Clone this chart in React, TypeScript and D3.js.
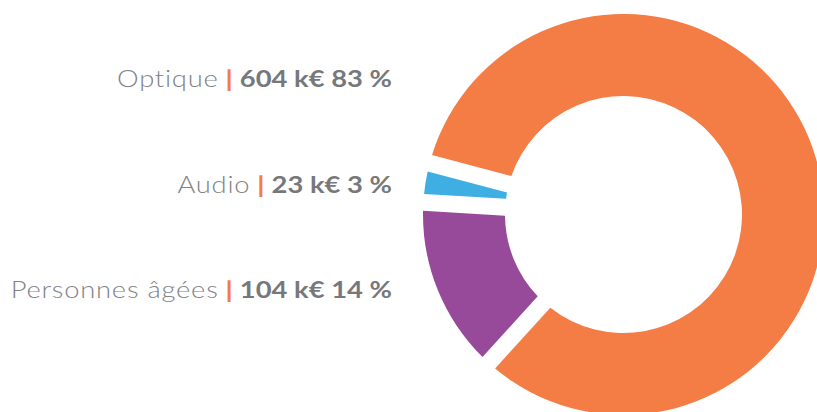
import React from "react";
import * as d3 from "d3";

const categories = ["Optique", "Audio", "Personnes âgées"];
const valuesK = [604, 23, 104];
const percents = [83, 3, 14];
const colors = ["#F47C45", "#3FAEE2", "#984A9A"];

const W = 817;
const H = 412;

export default function App() {
  const cx = 623.5;
  const cy = 214.5;
  const outerR = 200.5;
  const innerR = 118.5;
  const data = categories.map((c, i) => ({ name: c, value: valuesK[i], pct: percents[i], color: colors[i] }));

  const pie = d3
    .pie<any>()
    .value((d: any) => d.value)
    .sort((a: any, b: any) => b.value - a.value)
    .startAngle((-75.2 * Math.PI) / 180)
    .endAngle((-75.2 * Math.PI) / 180 + 2 * Math.PI);
  const arcs = pie(data);
  const arc = d3
    .arc<any>()
    .innerRadius(innerR)
    .outerRadius(outerR)
    .padRadius(outerR)
    .padAngle(17 / outerR);

  const y = d3.scalePoint<string>().domain(categories).range([87, 298]);

  return (
    <svg width={W} height={H} style={{ position: "absolute", left: 0, top: 0, background: "#fff" }}>
      <g transform={`translate(${cx},${cy})`}>
        {arcs.map((a, i) => (
          <path key={i} d={arc(a) as string} fill={a.data.color} />
        ))}
      </g>
      {data.map((d, i) => (
        <text
          key={i}
          transform={`translate(392,${y(d.name)}) scale(1.19,1)`}
          textAnchor="end"
          fontFamily="Lato, 'Open Sans', sans-serif"
          fontSize={23}
          fill="#7b7d80"
        >
          <tspan fontWeight={300} letterSpacing={0.65} fill="#808285">{d.name}</tspan>
          <tspan> </tspan>
          <tspan fontWeight={900} fill="#F47C45">|</tspan>
          <tspan> </tspan>
          <tspan fontWeight={700} fill="#76787b">{`${d.value} k€ ${d.pct} %`}</tspan>
        </text>
      ))}
    </svg>
  );
}
